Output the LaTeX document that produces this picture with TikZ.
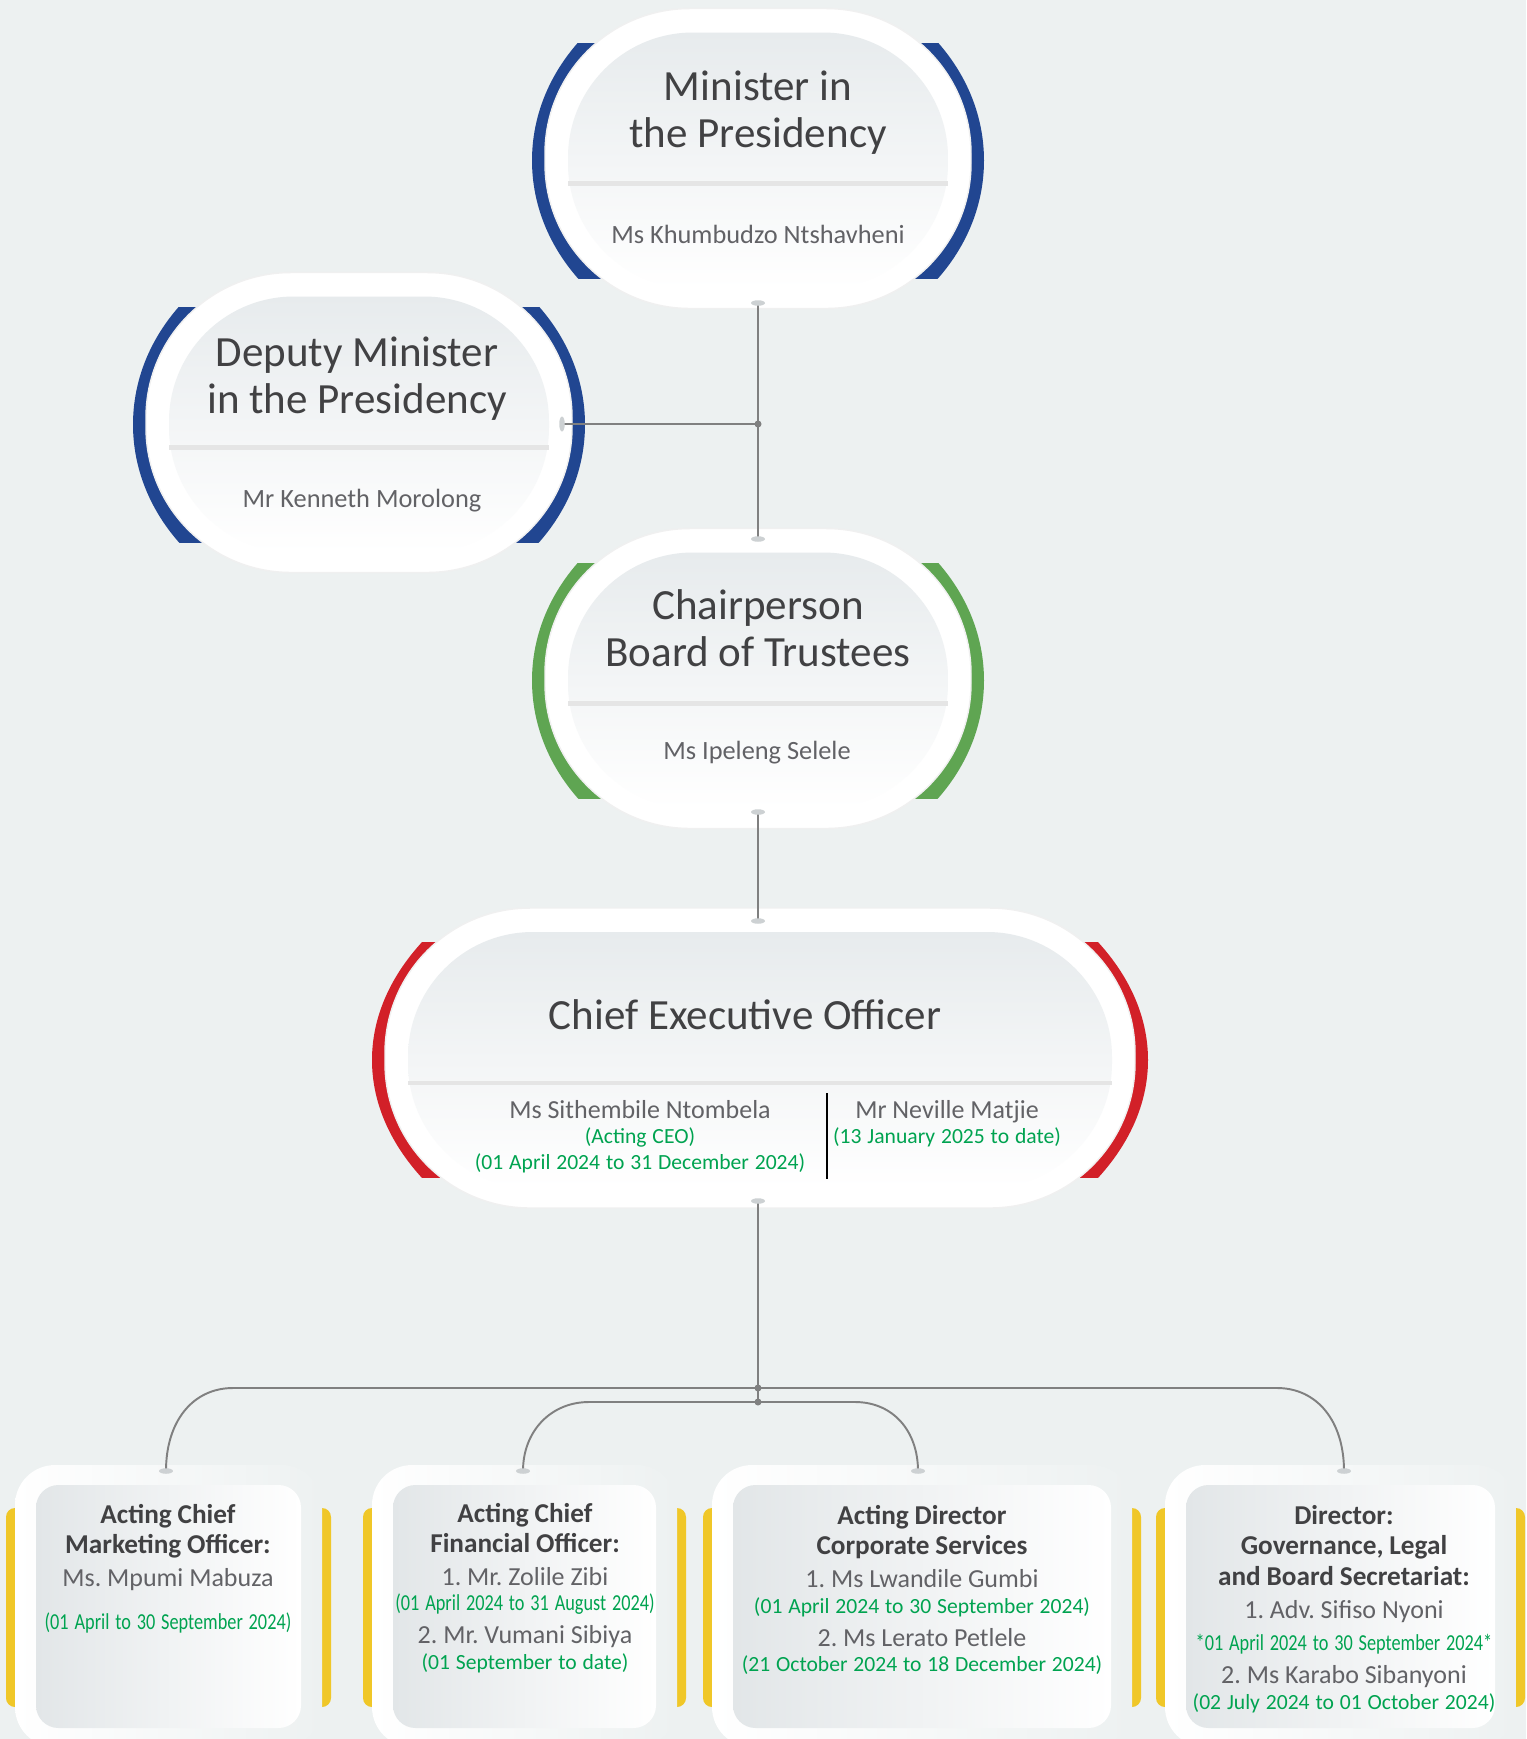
\documentclass[tikz,border=0pt]{standalone}
\usepackage{fontspec}
\setmainfont{Carlito}
\newfontfamily\narrowfont[FakeStretch=0.8]{Carlito}
\usetikzlibrary{positioning, calc}
\setlength{\parindent}{0pt}
\frenchspacing

\definecolor{pagebg}{RGB}{237,241,241}
\definecolor{innertop}{RGB}{231,235,237}
\definecolor{innergray}{RGB}{226,230,232}
\definecolor{ringblue}{RGB}{33,70,145}
\definecolor{ringgreen}{RGB}{95,165,82}
\definecolor{ringred}{RGB}{210,32,40}
\definecolor{baryellow}{RGB}{240,199,40}
\definecolor{titlegray}{RGB}{65,65,67}
\definecolor{namegray}{RGB}{98,98,102}
\definecolor{dategreen}{RGB}{0,163,80}
\definecolor{linkgray}{RGB}{128,128,128}
\definecolor{pingray}{RGB}{205,209,211}

% one line each, used in the text blocks
\newcommand{\unitrole}[1]{{\leavevmode\fontsize{15.5}{17.6}\selectfont\bfseries\color{titlegray}#1\par}}
\newcommand{\unitname}[1]{{\leavevmode\fontsize{14.8}{18.7}\selectfont\color{namegray}#1\par}}
\newcommand{\unitdate}[1]{{\leavevmode\fontsize{12.3}{14.6}\selectfont\color{dategreen}#1\par}}
\newcommand{\unitdatenarrow}[1]{{\leavevmode\narrowfont\fontsize{13}{14.2}\selectfont\color{dategreen}#1\par}}

\tikzset{
  shell/.style={fill=white, draw=black!6, line width=0.8pt, rounded corners=2.9cm,
    minimum height=6cm, inner sep=0pt},
  unitshell/.style={left color=white, middle color=white, right color=pagebg,
    rounded corners=0.8cm, minimum height=5.64cm, inner sep=0pt},
  divider/.style={draw=black!10, line width=2.5pt},
  captitle/.style={anchor=base, align=center, text=titlegray,
    font=\fontsize{24.5}{26.6}\selectfont},
  capname/.style={anchor=base, text=namegray, font=\fontsize{15}{18}\selectfont},
  unittext/.style={anchor=base, align=center, text width=8cm, inner sep=0pt},
  link/.style={draw=linkgray, line width=1.1pt},
  pin/.style={fill=pingray},
  joint/.style={fill=linkgray},
}

% capsule: name, centre x, centre y, half width, ring height, ring colour
\newcommand{\capsule}[6]{%
  \begin{scope}
    \clip (#2-#4-20,#3-117.5) rectangle (#2+#4+20,#3+117.5);
    \fill[#6] (#2,#3) ellipse ({(#4+13)*0.02cm} and {#5*0.02cm});
  \end{scope}
  \node[shell, minimum width={2*#4*0.02cm}] (#1) at (#2,#3-2) {};
  \path[top color=innertop, middle color=white, bottom color=white, rounded corners=2.5cm]
    (#2-#4+23,#3-128) rectangle (#2+#4-23,#3+128);
  \draw[divider] (#2-#4+23,#3+23) -- (#2+#4-23,#3+23);
}

% unit box: name, left edge, right edge
\newcommand{\unitbox}[3]{%
  \fill[baryellow, rounded corners=0.18cm] (#2-9,1508) rectangle (#3+9,1707);
  \node[unitshell, minimum width={(#3-#2)*0.02cm}] (#1) at ({(#2+#3)/2},1606) {};
  \path[left color=innergray, middle color=white, right color=white, rounded corners=0.45cm]
    (#2+21,1485) rectangle (#3-21,1728);
}

\begin{document}
\begin{tikzpicture}[x=0.02cm, y=-0.02cm]
  \useasboundingbox (0,0) rectangle (1526,1739);
  \clip (0,0) rectangle (1526,1739);
  \fill[pagebg] (0,0) rectangle (1526,1739);

  % capsules
  \capsule{minister}{758}{160.5}{213}{195}{ringblue}
  \capsule{deputy}{359}{424.5}{213}{195}{ringblue}
  \capsule{chair}{758}{680.5}{213}{195}{ringgreen}
  \capsule{ceo}{760}{1060}{375}{240}{ringred}

  % unit boxes
  \unitbox{cmo}{15}{322}
  \unitbox{cfo}{372}{677}
  \unitbox{corp}{712}{1132}
  \unitbox{gov}{1165}{1516}

  % pins and joints
  \coordinate (minister pin) at (758,303);
  \coordinate (chair top pin) at (758,539);
  \coordinate (deputy pin) at (562,424);
  \coordinate (deputy joint) at (758,424);
  \coordinate (chair pin) at (758,812);
  \coordinate (ceo top pin) at (758,921);
  \coordinate (ceo pin) at (758,1201);
  \coordinate (outer joint) at (758,1388);
  \coordinate (inner joint) at (758,1402);
  \coordinate (cmo pin) at (166,1471);
  \coordinate (cfo pin) at (523,1471);
  \coordinate (corp pin) at (918,1471);
  \coordinate (gov pin) at (1344,1471);

  \draw[link] (minister pin) -- (chair top pin);
  \draw[link] (deputy pin) -- (deputy joint);
  \draw[link] (chair pin) -- (ceo top pin);
  \draw[link] (ceo pin) -- (inner joint);
  \draw[link] (cmo pin) .. controls +(0,-50) and +(-40,0) .. (233,1388)
    -- (1277,1388) .. controls +(40,0) and +(0,-50) .. (gov pin);
  \draw[link] (cfo pin) .. controls +(0,-40) and +(-38,0) .. (589,1402)
    -- (855,1402) .. controls +(38,0) and +(0,-40) .. (corp pin);

  \fill[pin] (minister pin) ellipse (0.14cm and 0.055cm)
    (chair top pin) ellipse (0.14cm and 0.055cm)
    (chair pin) ellipse (0.14cm and 0.055cm)
    (ceo top pin) ellipse (0.14cm and 0.055cm)
    (ceo pin) ellipse (0.14cm and 0.055cm)
    (cmo pin) ellipse (0.14cm and 0.055cm)
    (cfo pin) ellipse (0.14cm and 0.055cm)
    (corp pin) ellipse (0.14cm and 0.055cm)
    (gov pin) ellipse (0.14cm and 0.055cm)
    (deputy pin) ellipse (0.055cm and 0.15cm);
  \fill[joint] (deputy joint) circle (2pt) (outer joint) circle (2pt) (inner joint) circle (2pt);

  % capsule texts (base = last line)
  \node[captitle] (minister title) at (758,147) {Minister in\\the Presidency};
  \node[capname] (minister name) at (758,243) {Ms Khumbudzo Ntshavheni};
  \node[captitle] (deputy title) at (357,413) {Deputy Minister\\in the Presidency};
  \node[capname] (deputy name) at (362,507) {Mr Kenneth Morolong};
  \node[captitle] (chair title) at (758,666) {Chairperson\\Board of Trustees};
  \node[capname] (chair name) at (757,759) {Ms Ipeleng Selele};
  \node[captitle] (ceo title) at (745,1029) {Chief Executive Officer};
  \node[unittext] (ceo acting) at (640,1118) {\unitname{Ms Sithembile Ntombela}%
    \unitdate{(Acting CEO)}\unitdate{(01 April 2024 to 31 December 2024)}};
  \node[unittext] (ceo current) at (947,1118) {\unitname{Mr Neville Matjie}%
    \unitdate{(13 January 2025 to date)}};
  \draw[black, line width=1.2pt] (827,1093) -- (827,1179);

  % unit texts
  \node[unittext] (cmo text) at (168,1523) {\unitrole{Acting Chief}%
    \unitrole{Marketing Officer:}\unitname{Ms. Mpumi Mabuza}\vskip 10pt
    \unitdatenarrow{(01 April to 30 September 2024)}};
  \node[unittext] (cfo text) at (525,1522) {\unitrole{Acting Chief}%
    \unitrole{Financial Officer:}\unitname{1. Mr. Zolile Zibi}%
    \unitdatenarrow{(01 April 2024 to 31 August 2024)}\unitname{2. Mr. Vumani Sibiya}%
    \unitdate{(01 September to date)}};
  \node[unittext] (corp text) at (922,1524) {\unitrole{Acting Director}%
    \unitrole{Corporate Services}\unitname{1. Ms Lwandile Gumbi}%
    \unitdate{(01 April 2024 to 30 September 2024)}\unitname{2. Ms Lerato Petlele}%
    \unitdate{(21 October 2024 to 18 December 2024)}};
  \node[unittext] (gov text) at (1344,1524) {\unitrole{Director:}%
    \unitrole{Governance, Legal}\unitrole{and Board Secretariat:}%
    \unitname{1. Adv. Sifiso Nyoni}\vskip 4pt
    \unitdatenarrow{*01 April 2024 to 30 September 2024*}\unitname{2. Ms Karabo Sibanyoni}%
    \unitdate{(02 July 2024 to 01 October 2024)}};
\end{tikzpicture}
\end{document}
